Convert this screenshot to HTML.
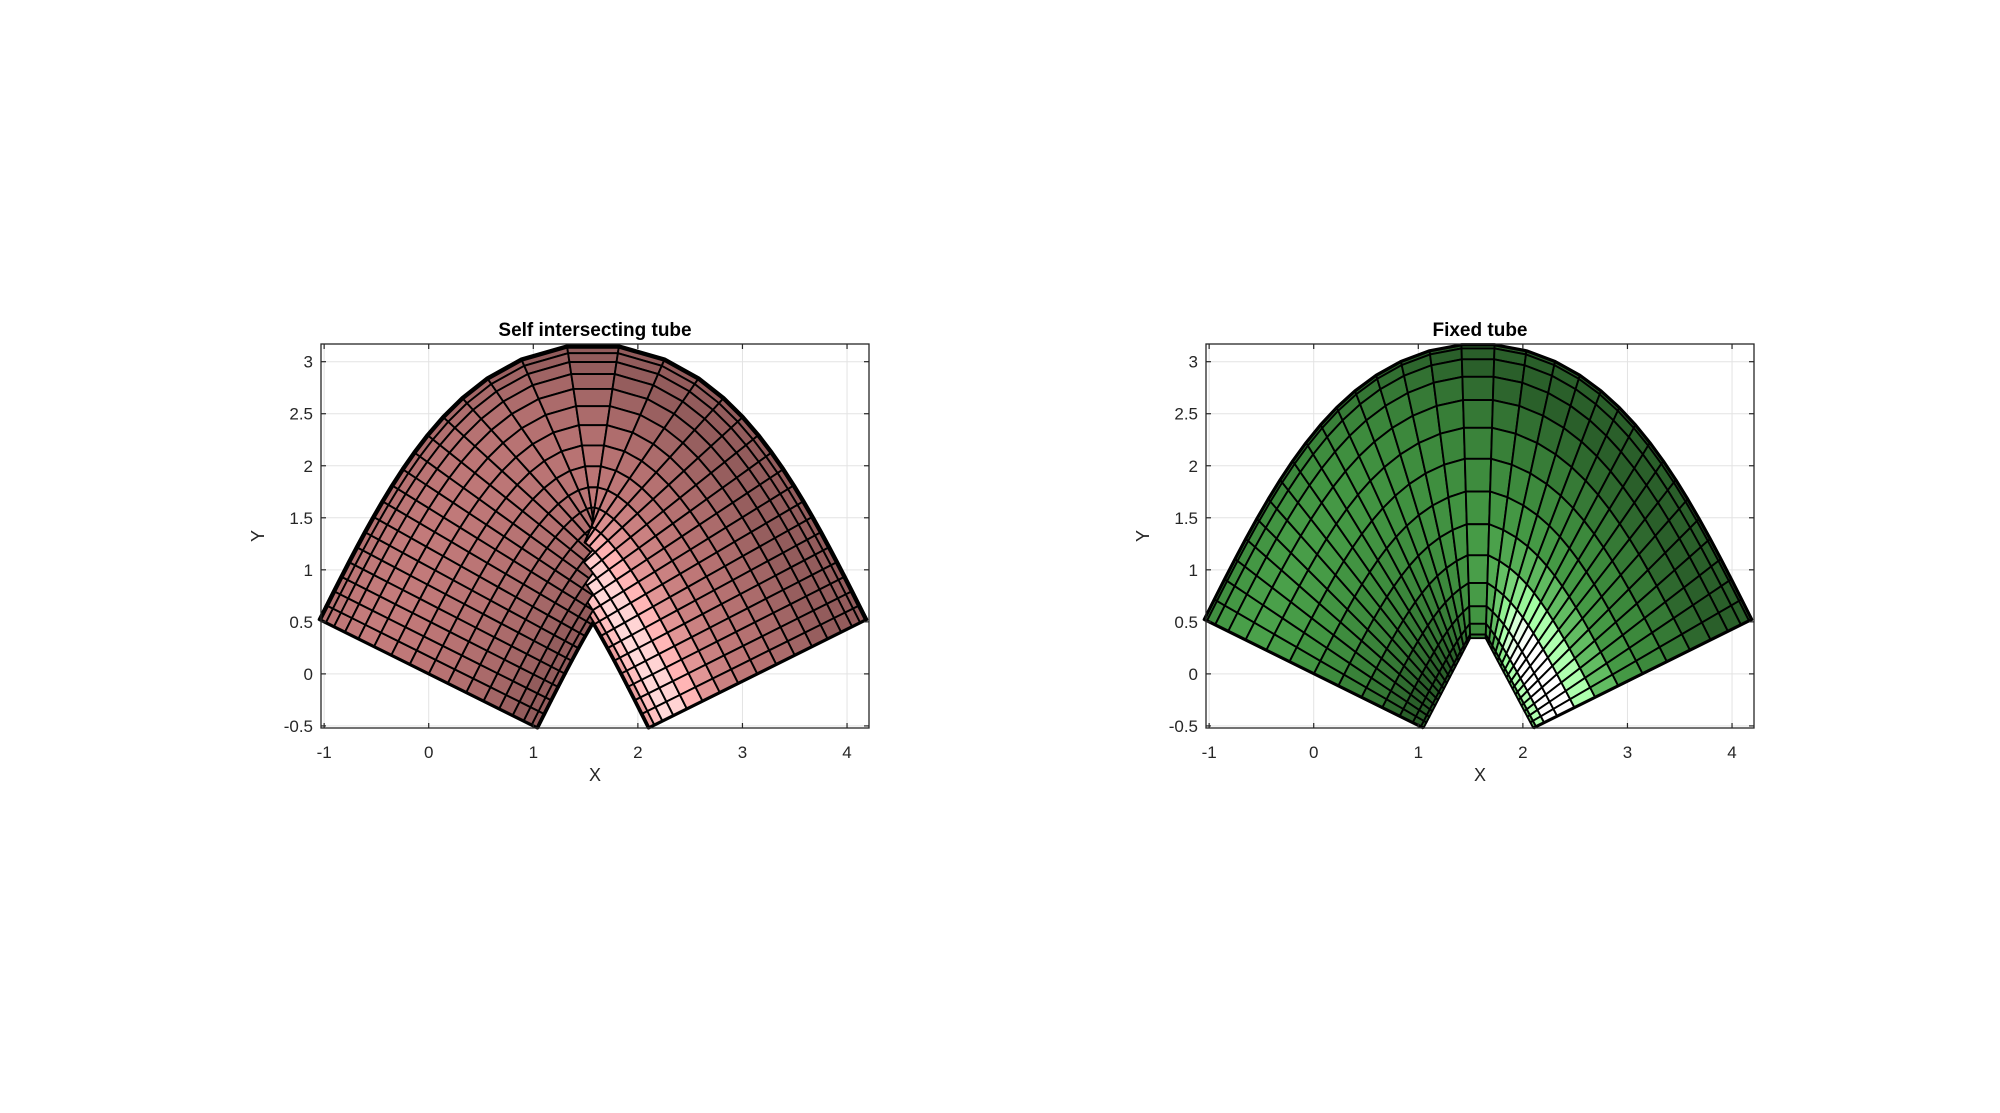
<!DOCTYPE html>
<html><head><meta charset="utf-8"><style>
html,body{margin:0;padding:0;background:#fff;}
svg{display:block;font-family:"Liberation Sans","DejaVu Sans",sans-serif;}
</style></head><body>
<svg id="fig" width="2000" height="1113" viewBox="0 0 2000 1113" xmlns="http://www.w3.org/2000/svg"></svg>
<script>
// ---- data ----
const xTicks = [-1, 0, 1, 2, 3, 4];
const yTicks = [-0.5, 0, 0.5, 1, 1.5, 2, 2.5, 3];
const xLim = [-1.03, 4.21];
const yLim = [-0.52, 3.17];
const centerAmp = [2];          // centerline y = A*sin(t), t in [0, pi]
const tubeRadius = [1.17];
const leftSegments = [35, 18];  // along-tube (arclength), around half circle
const fixedSegments = [33, 14];
const fixedInnerLeft = [[1.05, -0.52], [1.51, 0.37]];
const fixedInnerRight = [[1.63, 0.37], [2.10, -0.52]];
const titles = ["Self intersecting tube", "Fixed tube"];

const NS = "http://www.w3.org/2000/svg";
const svg = document.getElementById('fig');
function mk(tag, attrs, parent){
  const e = document.createElementNS(NS, tag);
  for (const k in attrs) e.setAttribute(k, attrs[k]);
  (parent||svg).appendChild(e);
  return e;
}
const A = centerAmp[0], R = tubeRadius[0];
function cen(t){ return [t, A*Math.sin(t)]; }
function nrm(t){ const d = A*Math.cos(t); const L = Math.hypot(1,d); return [-d/L, 1/L]; }

const Lr = [-0.6,-0.35,0.55]; { const l=Math.hypot(...Lr); Lr[0]/=l;Lr[1]/=l;Lr[2]/=l; }
const Hh = [Lr[0], Lr[1], Lr[2]+1]; { const l=Math.hypot(...Hh); Hh[0]/=l;Hh[1]/=l;Hh[2]/=l; }
function shade(base, t, th, amb, dif, spc){
  const n = nrm(t), c = Math.cos(th), s = Math.sin(th);
  const N = [c*n[0], c*n[1], s];
  const d = Math.max(0, N[0]*Lr[0]+N[1]*Lr[1]+N[2]*Lr[2]);
  const sp = Math.pow(Math.max(0, N[0]*Lr[0]+N[1]*Lr[1]+N[2]*Lr[2]), 12);
  const f = amb + dif*d;
  return 'rgb(' + base.map(b => Math.round(Math.min(1, b*f + spc*sp) * 255)).join(',') + ')';
}

function drawAxes(x0, idx, buildGrid, base, amb, dif, spc){
  const x1 = x0 + 548, y0 = 344, y1 = 728;
  const sx = v => x0 + (v - xLim[0]) / (xLim[1]-xLim[0]) * (x1-x0);
  const sy = v => y1 - (v - yLim[0]) / (yLim[1]-yLim[0]) * (y1-y0);
  const g = mk('g', {});
  
  
  mk('rect', {x:x0, y:y0, width:x1-x0, height:y1-y0, fill:'#fff'}, g);
  xTicks.forEach(v => { const l = mk('line', {x1:sx(v), x2:sx(v), y1:y0, y2:y1, stroke:'#e3e3e3', 'stroke-width':1}, g);
      });
  yTicks.forEach(v => { const l = mk('line', {x1:x0, x2:x1, y1:sy(v), y2:sy(v), stroke:'#e3e3e3', 'stroke-width':1}, g);
      });
  const grid = buildGrid();
  const surf = mk('g', {}, g);
  
  
  const faces = [];
  const ni = grid.P.length - 1, nj = grid.P[0].length - 1;
  for (let i=0;i<ni;i++) for (let j=0;j<nj;j++){
    const tm = (grid.T[i]+grid.T[i+1])/2, thm = (grid.TH[j]+grid.TH[j+1])/2;
    faces.push({i, j, z: Math.sin(thm), col: shade(base, tm, thm, amb, dif, spc)});
  }
  faces.sort((a,b)=>a.z-b.z);
  faces.forEach(f => {
    const q = [grid.P[f.i][f.j], grid.P[f.i+1][f.j], grid.P[f.i+1][f.j+1], grid.P[f.i][f.j+1]];
    const p = mk('polygon', {points: q.map(v => sx(v[0]).toFixed(2)+','+sy(v[1]).toFixed(2)).join(' '),
      fill: f.col, stroke:'#000', 'stroke-width':1.9, 'stroke-linejoin':'round'}, surf);
    
    
  });
  // outline: outer edge + end caps
  const outer = grid.P.map(r => r[0]);
  const pts = [grid.P[0][nj]].concat(outer, [grid.P[ni][nj]]);
  const ol = mk('polyline', {points: pts.map(v => sx(v[0]).toFixed(2)+','+sy(v[1]).toFixed(2)).join(' '),
    fill:'none', stroke:'#000', 'stroke-width':3.2, 'stroke-linejoin':'round'}, surf);
  
  
  const bx = mk('rect', {x:x0, y:y0, width:x1-x0, height:y1-y0, fill:'none', stroke:'#262626', 'stroke-width':1.3}, g);
   
  xTicks.forEach(v => {
    mk('line', {x1:sx(v), x2:sx(v), y1:y1, y2:y1-5, stroke:'#262626','stroke-width':1.2}, g);
    mk('line', {x1:sx(v), x2:sx(v), y1:y0, y2:y0+5, stroke:'#262626','stroke-width':1.2}, g);
    const t = mk('text', {x:sx(v), y:758, 'text-anchor':'middle', 'font-size':17, fill:'#262626'}, g);
    t.textContent = String(v);
     
  });
  yTicks.forEach(v => {
    mk('line', {x1:x0, x2:x0+5, y1:sy(v), y2:sy(v), stroke:'#262626','stroke-width':1.2}, g);
    mk('line', {x1:x1, x2:x1-5, y1:sy(v), y2:sy(v), stroke:'#262626','stroke-width':1.2}, g);
    const t = mk('text', {x:x0-8, y:sy(v)+6, 'text-anchor':'end', 'font-size':17, fill:'#262626'}, g);
    t.textContent = String(v);
     
  });
  const xl = mk('text', {x:(x0+x1)/2, y:781, 'text-anchor':'middle', 'font-size':18, fill:'#262626'}, g);
  xl.textContent = 'X';  
  const yl = mk('text', {x:0, y:0, 'text-anchor':'middle', 'font-size':18, fill:'#262626',
    transform:'translate('+(x0-57)+','+((y0+y1)/2)+') rotate(-90)'}, g);
  yl.textContent = 'Y';  
  const tt = mk('text', {x:(x0+x1)/2, y:336, 'text-anchor':'middle', 'font-size':19, 'font-weight':'bold', fill:'#000'}, g);
  tt.textContent = titles[idx];  
}

function leftGrid(){
  const M = 4000, tt = [0], ss = [0];
  for (let k=1;k<=M;k++){ const t=Math.PI*k/M; const a=cen(tt[k-1]), b=cen(t);
    tt.push(t); ss.push(ss[k-1]+Math.hypot(b[0]-a[0], b[1]-a[1])); }
  const S = ss[M], ns = leftSegments[0], nt = leftSegments[1];
  const T = [], TH = [];
  let k = 0;
  for (let i=0;i<=ns;i++){
    const target = S*i/ns;
    while (k < M-1 && ss[k+1] < target) k++;
    const f = (target-ss[k])/(ss[k+1]-ss[k]);
    T.push(tt[k] + f*(tt[k+1]-tt[k]));
  }
  for (let j=0;j<=nt;j++) TH.push(Math.PI*j/nt);
  const P = T.map(t => TH.map(th => { const c=cen(t), n=nrm(t), d=R*Math.cos(th); return [c[0]+d*n[0], c[1]+d*n[1]]; }));
  return {P, T, TH};
}
function fixedGrid(){
  const ns = fixedSegments[0], nt = fixedSegments[1];
  const T = [], TH = [];
  for (let i=0;i<=ns;i++) T.push(Math.PI*i/ns);
  for (let j=0;j<=nt;j++) TH.push(Math.PI*j/nt);
  const inner = t => {
    if (t <= Math.PI/2){ const f=t/(Math.PI/2), a=fixedInnerLeft[0], b=fixedInnerLeft[1];
      return [a[0]+f*(b[0]-a[0]), a[1]+f*(b[1]-a[1])]; }
    const f=(t-Math.PI/2)/(Math.PI/2), a=fixedInnerRight[0], b=fixedInnerRight[1];
    return [a[0]+f*(b[0]-a[0]), a[1]+f*(b[1]-a[1])];
  };
  const P = T.map(t => { const c=cen(t), n=nrm(t), o=[c[0]+R*n[0], c[1]+R*n[1]], q=inner(t);
    return TH.map(th => { const f=(1-Math.cos(th))/2; return [o[0]+f*(q[0]-o[0]), o[1]+f*(q[1]-o[1])]; }); });
  return {P, T, TH};
}
drawAxes(321, 0, leftGrid, [0.80, 0.50, 0.50], 0.72, 0.30, 0.35);
drawAxes(1206, 1, fixedGrid, [0.30, 0.68, 0.30], 0.55, 0.45, 0.8);
</script>
</body></html>
